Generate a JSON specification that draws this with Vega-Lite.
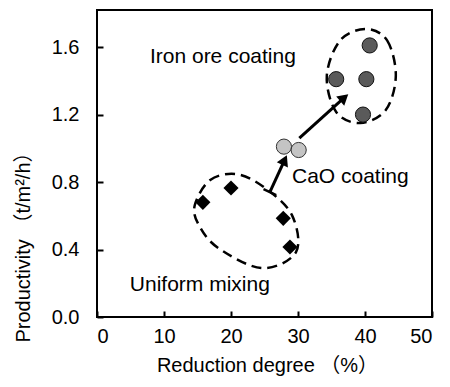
{
  "$schema": "https://vega.github.io/schema/vega-lite/v6.json",
  "width": 335,
  "height": 307,
  "autosize": {"type": "none"},
  "padding": {"left": 97, "top": 10, "right": 18, "bottom": 70},
  "background": "white",
  "config": {
    "view": {"stroke": "black", "strokeWidth": 2},
    "font": "Liberation Sans",
    "axis": {
      "grid": false,
      "domain": false,
      "tickSize": -6,
      "tickWidth": 2,
      "tickColor": "black",
      "labelFont": "Liberation Sans",
      "labelFontSize": 20,
      "labelColor": "black",
      "titleFont": "Liberation Sans, Noto Sans CJK JP",
      "titleFontSize": 20,
      "titleFontWeight": "normal",
      "titleColor": "black"
    }
  },
  "datasets": {
    "ellipses": [
      {"ell": "uniform", "i": 1, "x": 14.6, "y": 0.664},
      {"ell": "uniform", "i": 2, "x": 16.9, "y": 0.812},
      {"ell": "uniform", "i": 3, "x": 20.9, "y": 0.847},
      {"ell": "uniform", "i": 4, "x": 25.1, "y": 0.764},
      {"ell": "uniform", "i": 5, "x": 29.1, "y": 0.604},
      {"ell": "uniform", "i": 6, "x": 29.7, "y": 0.385},
      {"ell": "uniform", "i": 7, "x": 24.6, "y": 0.29},
      {"ell": "uniform", "i": 8, "x": 18.1, "y": 0.409},
      {"ell": "uniform", "i": 9, "x": 15.2, "y": 0.545},
      {"ell": "iron", "i": 1, "x": 40.1, "y": 1.707},
      {"ell": "iron", "i": 2, "x": 43.3, "y": 1.64},
      {"ell": "iron", "i": 3, "x": 44.6, "y": 1.43},
      {"ell": "iron", "i": 4, "x": 43.1, "y": 1.227},
      {"ell": "iron", "i": 5, "x": 39.3, "y": 1.15},
      {"ell": "iron", "i": 6, "x": 35.7, "y": 1.215},
      {"ell": "iron", "i": 7, "x": 34.3, "y": 1.43},
      {"ell": "iron", "i": 8, "x": 36.3, "y": 1.64}
    ],
    "arrows": [
      {"arrow": "a1", "i": 1, "x": 25.8, "y": 0.74},
      {"arrow": "a1", "i": 2, "x": 28.0, "y": 0.93},
      {"arrow": "a2", "i": 1, "x": 30.2, "y": 1.06},
      {"arrow": "a2", "i": 2, "x": 36.9, "y": 1.30}
    ],
    "points": [
      {"group": "Uniform mixing", "x": 15.8, "y": 0.68},
      {"group": "Uniform mixing", "x": 20.0, "y": 0.765},
      {"group": "Uniform mixing", "x": 27.8, "y": 0.585},
      {"group": "Uniform mixing", "x": 28.8, "y": 0.415},
      {"group": "CaO coating", "x": 27.9, "y": 1.01},
      {"group": "CaO coating", "x": 30.1, "y": 0.99},
      {"group": "Iron ore coating", "x": 40.7, "y": 1.61},
      {"group": "Iron ore coating", "x": 35.7, "y": 1.41},
      {"group": "Iron ore coating", "x": 40.2, "y": 1.41},
      {"group": "Iron ore coating", "x": 39.7, "y": 1.20}
    ],
    "labels": [
      {"text": "Iron ore coating", "x": 7.9, "y": 1.54},
      {"text": "CaO coating", "x": 29.1, "y": 0.83},
      {"text": "Uniform mixing", "x": 4.9, "y": 0.19}
    ]
  },
  "encoding": {
    "x": {
      "field": "x", "type": "quantitative",
      "scale": {"domain": [0, 50], "nice": false, "zero": false},
      "axis": {"values": [0, 10, 20, 30, 40, 50], "title": "Reduction degree （%）", "titleX": 170, "titleY": 48, "titleBaseline": "middle", "labelPadding": 15}
    },
    "y": {
      "field": "y", "type": "quantitative",
      "scale": {"domain": [0, 1.82], "nice": false, "zero": false},
      "axis": {"values": [0, 0.4, 0.8, 1.2, 1.6], "format": ".1f", "title": "Productivity （t/m²/h）", "titleX": -74, "titleY": 232, "titleAngle": -90, "titleAlign": "center", "titleBaseline": "middle", "labelPadding": 24}
    }
  },
  "layer": [
    {
      "data": {"name": "ellipses"},
      "mark": {"type": "line", "interpolate": "cardinal-closed", "stroke": "black", "strokeWidth": 2.5, "strokeDash": [10, 6]},
      "encoding": {"detail": {"field": "ell"}, "order": {"field": "i", "type": "quantitative"}}
    },
    {
      "data": {"name": "arrows"},
      "mark": {"type": "line", "stroke": "black", "strokeWidth": 3},
      "encoding": {"detail": {"field": "arrow"}, "order": {"field": "i", "type": "quantitative"}}
    },
    {
      "data": {"name": "arrows"},
      "transform": [{"filter": "datum.arrow == 'a1' && datum.i == 2"}],
      "mark": {"type": "point", "shape": "triangle-up", "filled": true, "color": "black", "size": 150, "angle": 25, "opacity": 1}
    },
    {
      "data": {"name": "arrows"},
      "transform": [{"filter": "datum.arrow == 'a2' && datum.i == 2"}],
      "mark": {"type": "point", "shape": "triangle-up", "filled": true, "color": "black", "size": 150, "angle": 49, "opacity": 1}
    },
    {
      "data": {"name": "arrows"},
      "transform": [{"filter": "datum.arrow == 'a1' && datum.i == 1"}],
      "mark": {"type": "point", "shape": "stroke", "filled": false, "stroke": "black", "strokeWidth": 2.5, "size": 196, "angle": 25, "opacity": 1}
    },
    {
      "data": {"name": "points"},
      "transform": [{"filter": "datum.group == 'Uniform mixing'"}],
      "mark": {"type": "point", "shape": "diamond", "filled": true, "color": "black", "size": 230, "opacity": 1}
    },
    {
      "data": {"name": "points"},
      "transform": [{"filter": "datum.group == 'CaO coating'"}],
      "mark": {"type": "point", "shape": "circle", "filled": true, "fill": "#c4c4c4", "stroke": "#333333", "strokeWidth": 1, "size": 230, "opacity": 1}
    },
    {
      "data": {"name": "points"},
      "transform": [{"filter": "datum.group == 'Iron ore coating'"}],
      "mark": {"type": "point", "shape": "circle", "filled": true, "fill": "#5a5a5a", "stroke": "#111111", "strokeWidth": 1, "size": 230, "opacity": 1}
    },
    {
      "data": {"name": "labels"},
      "mark": {"type": "text", "align": "left", "baseline": "middle", "fontSize": 21, "font": "Liberation Sans", "color": "black"},
      "encoding": {"text": {"field": "text"}}
    }
  ]
}
